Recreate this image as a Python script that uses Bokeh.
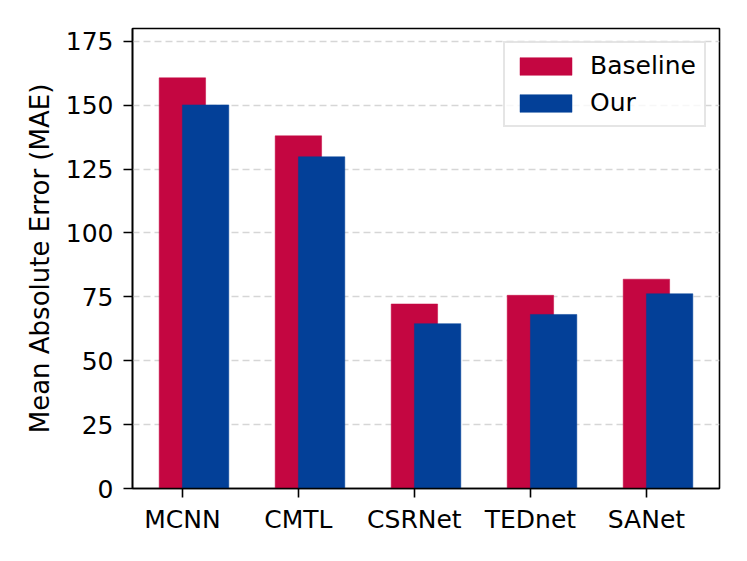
from bokeh.plotting import figure
from bokeh.models import Range1d, FixedTicker
from bokeh.embed import file_html
from bokeh.resources import INLINE

categories = ["MCNN", "CMTL", "CSRNet", "TEDnet", "SANet"]
baseline = [160.7, 138.0, 72.2, 75.6, 81.9]
ours = [150.1, 129.8, 64.5, 68.1, 76.2]
y_ticks = [0, 25, 50, 75, 100, 125, 150, 175]

x_pos = list(range(len(categories)))
x_our = [i + 0.2 for i in x_pos]

FONT = "DejaVu Sans"
FS = "25px"

p = figure(width=731, height=545, output_backend="svg", toolbar_location=None,
           x_range=Range1d(-0.43, 4.63), y_range=Range1d(0, 180),
           min_border_left=132, min_border_right=12, min_border_top=28,
           min_border_bottom=57, title=None)

p.vbar(x=x_pos, top=baseline, width=0.4, fill_color="#C40641",
       line_color="#C40641", line_width=0.5, legend_label="Baseline")
p.vbar(x=x_our, top=ours, width=0.4, fill_color="#034098",
       line_color="#034098", line_width=0.5, legend_label="Our")

p.outline_line_color = "black"
p.outline_line_width = 1.6
p.outline_line_alpha = 1.0

p.xgrid.visible = False
p.ygrid.ticker = FixedTicker(ticks=y_ticks)
p.ygrid.grid_line_color = "#d6d6d6"
p.ygrid.grid_line_dash = "7 4"
p.ygrid.grid_line_width = 1.5

p.yaxis.ticker = FixedTicker(ticks=y_ticks)
p.xaxis.ticker = FixedTicker(ticks=x_pos)
p.xaxis.major_label_overrides = {i: c for i, c in zip(x_pos, categories)}
p.yaxis.axis_label = "Mean Absolute Error (MAE)"

for ax in (p.xaxis[0], p.yaxis[0]):
    ax.axis_line_color = "black"
    ax.axis_line_width = 1.6
    ax.major_tick_line_color = "black"
    ax.major_tick_line_width = 1.6
    ax.major_tick_in = 0
    ax.major_tick_out = 9
    ax.minor_tick_line_color = None
    ax.major_label_text_font = FONT
    ax.major_label_text_font_size = FS
    ax.major_label_text_color = "black"
    ax.major_label_standoff = 10
    ax.axis_label_text_font = FONT
    ax.axis_label_text_font_size = "26px"
    ax.axis_label_text_font_style = "normal"
    ax.axis_label_text_color = "black"
    ax.axis_label_standoff = 8

p.xaxis[0].major_label_standoff = 7

lg = p.legend[0]
lg.location = "top_right"
lg.margin = 13
lg.padding = 8
lg.spacing = 8
lg.glyph_width = 65
lg.glyph_height = 22
lg.label_standoff = 12
lg.label_text_font = FONT
lg.label_text_font_size = FS
lg.label_text_color = "black"
lg.border_line_color = "#cccccc"
lg.border_line_width = 2
lg.background_fill_alpha = 0.8

open("out.html", "w").write(file_html(p, INLINE))
